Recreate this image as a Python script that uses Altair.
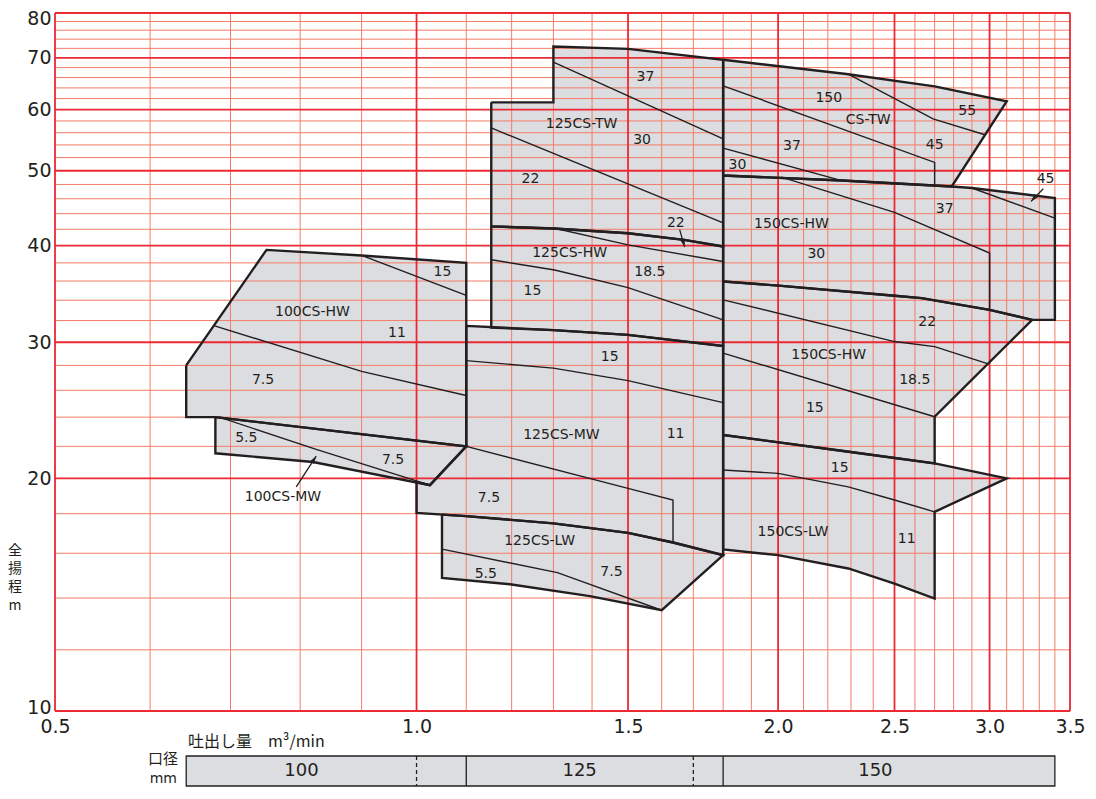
import altair as alt
import pandas as pd

# ---------------- axis ticks / grid ----------------
X_MAJOR = [0.5, 1.0, 1.5, 2.0, 2.5, 3.0, 3.5]
X_MINOR = [0.6, 0.7, 0.8, 0.9, 1.1, 1.2, 1.3, 1.4, 1.6, 1.7, 1.8, 1.9,
           2.1, 2.2, 2.3, 2.4, 2.6, 2.7, 2.8, 2.9, 3.1, 3.2, 3.3, 3.4]
Y_MAJOR = [10, 20, 30, 40, 50, 60, 70, 80]
Y_MINOR = [12, 14, 16, 18, 22, 24, 26, 28, 32, 34, 36, 38, 42, 44, 46, 48,
           52, 54, 56, 58, 62, 64, 66, 68, 72, 74, 76, 78]

# ---------------- pump regions (Q m3/min, H m) ----------------
P100HW = [(0.643, 28.0), (0.75, 39.5), (0.90, 38.85), (1.10, 38.0), (1.10, 22.0),
          (0.68, 24.0), (0.643, 24.0)]
P100MW = [(0.68, 24.0), (1.10, 22.0), (1.026, 19.6), (0.82, 21.0), (0.68, 21.55)]
P125TW = [(1.154, 61.3), (1.30, 61.3), (1.30, 72.4), (1.50, 71.9), (1.80, 69.6),
          (1.80, 39.9), (1.67, 40.7), (1.50, 41.5), (1.30, 42.1), (1.154, 42.36)]
P125HW = [(1.154, 42.36), (1.30, 42.1), (1.50, 41.5), (1.67, 40.7), (1.80, 39.9),
          (1.80, 29.67), (1.50, 30.66), (1.30, 31.1), (1.154, 31.33)]
P125MW = [(1.10, 31.5), (1.30, 31.1), (1.50, 30.66), (1.80, 29.67), (1.80, 15.91),
          (1.635, 16.52), (1.50, 17.0), (1.30, 17.49), (1.10, 17.87), (1.0, 18.04),
          (1.0, 19.78), (1.026, 19.6), (1.10, 22.0)]
P125LW = [(1.05, 17.95), (1.10, 17.87), (1.30, 17.49), (1.50, 17.0), (1.635, 16.52),
          (1.80, 15.91), (1.60, 13.5), (1.394, 14.08), (1.196, 14.59), (1.05, 14.87)]
P150TW = [(1.80, 69.6), (2.28, 66.7), (2.70, 64.3), (3.10, 61.5), (2.79, 47.72),
          (2.26, 48.57), (1.80, 49.3)]
P150HW1 = [(1.80, 49.3), (2.26, 48.57), (2.79, 47.72), (2.90, 47.5), (3.40, 46.1),
           (3.40, 32.07), (3.255, 32.07), (3.0, 33.04), (2.633, 34.21), (2.50, 34.45),
           (2.013, 35.49), (1.80, 35.95)]
P150HW2 = [(1.80, 35.95), (2.013, 35.49), (2.50, 34.45), (2.633, 34.21), (3.0, 33.04),
           (3.255, 32.07), (2.70, 24.03), (2.70, 20.91), (2.29, 21.65), (1.80, 22.76)]
P150LW = [(1.80, 22.76), (2.29, 21.65), (2.70, 20.91), (3.10, 20.0), (2.70, 18.1),
          (2.70, 13.98), (2.50, 14.62), (2.288, 15.29), (2.0, 15.91), (1.80, 16.18)]

POLYS = {"100HW": P100HW, "100MW": P100MW, "125TW": P125TW, "125HW": P125HW,
         "125MW": P125MW, "125LW": P125LW, "150TW": P150TW, "150HW1": P150HW1,
         "150HW2": P150HW2, "150LW": P150LW}

# motor output dividing lines (kW)
KW_LINES = {
    "a": [(0.90, 38.85), (1.10, 34.5)],
    "b": [(0.679, 31.5), (0.90, 27.5), (1.10, 25.6)],
    "c": [(0.685, 24.0), (0.825, 21.8), (1.026, 19.6)],
    "d": [(1.30, 69.1), (1.80, 55.0)],
    "e": [(1.154, 56.8), (1.80, 42.8)],
    "f": [(1.30, 42.16), (1.50, 40.1), (1.80, 38.15)],
    "g": [(1.154, 38.35), (1.303, 37.2), (1.50, 35.3), (1.80, 32.07)],
    "h": [(1.10, 28.4), (1.30, 27.77), (1.50, 26.76), (1.80, 25.06)],
    "i": [(1.10, 22.0), (1.50, 19.41), (1.635, 18.75), (1.635, 16.52)],
    "j": [(1.05, 16.2), (1.31, 15.1), (1.60, 13.5)],
    "k": [(1.80, 64.4), (2.70, 51.26), (2.70, 47.8)],
    "l": [(2.288, 66.7), (2.692, 58.35), (2.973, 55.67)],
    "m": [(1.80, 53.5), (2.244, 48.7)],
    "n": [(2.013, 49.07), (2.50, 44.16), (3.0, 39.13), (3.0, 33.04)],
    "o": [(2.90, 47.5), (3.40, 43.43)],
    "p": [(1.80, 34.04), (2.50, 30.06), (2.70, 29.61), (2.992, 28.12)],
    "q": [(1.80, 29.04), (2.70, 24.03)],
    "r": [(1.80, 20.5), (2.0, 20.3), (2.288, 19.5), (2.50, 18.75), (2.70, 18.1)],
}

# arrows: start, tip, direction (deg)
ARROWS = [((0.794, 19.5), (0.825, 21.37), 33),
          ((1.656, 41.95), (1.672, 39.83), 164),
          ((3.325, 47.4), (3.248, 45.64), 222)]

LABEL_TEXT = ["15", "100CS-HW", "11", "7.5", "5.5", "7.5", "100CS-MW",
              "37", "125CS-TW", "30", "22", "22", "125CS-HW", "18.5", "15",
              "15", "125CS-MW", "11", "7.5", "125CS-LW", "5.5", "7.5",
              "150", "CS-TW", "55", "45", "37", "30", "45",
              "150CS-HW", "37", "30", "22", "150CS-HW", "18.5", "15",
              "15", "150CS-LW", "11"]
LABEL_Q = [1.051, 0.819, 0.963, 0.745, 0.7215, 0.956, 0.774,
           1.551, 1.372, 1.541, 1.244, 1.644, 1.341, 1.564, 1.249,
           1.448, 1.320, 1.643, 1.149, 1.266, 1.142, 1.453,
           2.204, 2.377, 2.874, 2.70, 2.054, 1.85, 3.34,
           2.052, 2.753, 2.152, 2.662, 2.204, 2.599, 2.146,
           2.251, 2.058, 2.559]
LABEL_H = [37.0, 32.84, 30.85, 26.8, 22.53, 21.12, 18.93,
           66.1, 57.5, 54.85, 48.8, 42.8, 39.1, 37.0, 34.96,
           28.69, 22.76, 22.8, 18.84, 16.59, 15.03, 15.14,
           62.1, 58.1, 59.8, 54.0, 53.8, 50.9, 48.8,
           42.7, 44.65, 39.0, 31.9, 28.89, 26.81, 24.64,
           20.6, 17.02, 16.67]

# bore (口径) bar
BORE_EDGES = [0.643, 3.40]
BORE_SOLID = [1.10, 1.80]
BORE_DASHED = [1.00, 1.70]
BORE_TEXT = ["100", "125", "150"]
BORE_Q = [0.802, 1.367, 2.41]

X_TITLE = "吐出し量　m³/min"
Y_TITLE_CHARS = ["全", "揚", "程", "m"]
BORE_TITLE = "口径"
BORE_UNIT = "mm"

# ---------------- styles / layout ----------------
GRAY = "#dcdde0"
INK = "#231f20"
RED = "#ec2a35"
SALMON = "#f47c66"
FONT = "DejaVu Sans"
JFONT = "Noto Sans CJK JP"

W, H = 1015, 698
Y_TITLE_POS = [538, 556, 574, 593]      # pixel rows (plot-relative)
BAR_TOP, BAR_BOT = 743, 773

xs = alt.Scale(type="log", domain=[0.5, 3.5], nice=False)
ys = alt.Scale(type="log", domain=[10, 80], nice=False)
xaxis = alt.Axis(values=X_MAJOR, format=".1f", title=None, grid=False, ticks=False,
                 domain=False, labelFontSize=19, labelFont=FONT, labelColor=INK,
                 labelPadding=6, labelFlush=False, labelOverlap=False)
yaxis = alt.Axis(values=Y_MAJOR, format="d", title=None, grid=False, ticks=False,
                 domain=False, labelFontSize=19, labelFont=FONT, labelColor=INK,
                 labelPadding=4, labelFlush=False, labelOverlap=False,
                 labelOffset={"condition": [{"test": "datum.value == 80", "value": 5},
                                            {"test": "datum.value == 10", "value": -4}],
                              "value": 0})


def XE(f="q"):
    return alt.X(f"{f}:Q", scale=xs, axis=xaxis)


def YE(f="h"):
    return alt.Y(f"{f}:Q", scale=ys, axis=yaxis)


def path_frame(d, close):
    rows = []
    for pid, pts in d.items():
        seq = list(pts) + ([pts[0]] if close else [])
        for i, (q, h) in enumerate(seq):
            rows.append({"pid": pid, "i": i, "q": q, "h": h})
    return pd.DataFrame(rows)


poly_df = path_frame(POLYS, True)
line_df = path_frame(KW_LINES, False)
shaft_df = path_frame({f"s{k}": [a[0], a[1]] for k, a in enumerate(ARROWS)}, False)
head_df = pd.DataFrame({"q": [a[1][0] for a in ARROWS], "h": [a[1][1] for a in ARROWS],
                        "ang": [a[2] for a in ARROWS]})
label_df = pd.DataFrame({"t": LABEL_TEXT, "q": LABEL_Q, "h": LABEL_H})

fills = alt.Chart(poly_df).mark_line(fill=GRAY, strokeOpacity=0).encode(
    x=XE(), y=YE(), detail="pid:N", order="i:Q")

xminor = alt.Chart(pd.DataFrame({"q": X_MINOR})).mark_rule(
    color=SALMON, strokeWidth=1).encode(x=XE())
yminor = alt.Chart(pd.DataFrame({"h": Y_MINOR})).mark_rule(
    color=SALMON, strokeWidth=1).encode(y=YE())
xmajor = alt.Chart(pd.DataFrame({"q": X_MAJOR})).mark_rule(
    color=RED, strokeWidth=1.8).encode(x=XE())
ymajor = alt.Chart(pd.DataFrame({"h": Y_MAJOR})).mark_rule(
    color=RED, strokeWidth=1.8).encode(y=YE())

kw = alt.Chart(line_df).mark_line(color=INK, strokeWidth=1.4).encode(
    x=XE(), y=YE(), detail="pid:N", order="i:Q")
outlines = alt.Chart(poly_df).mark_line(color=INK, strokeWidth=2.4,
                                        strokeJoin="miter").encode(
    x=XE(), y=YE(), detail="pid:N", order="i:Q")
shafts = alt.Chart(shaft_df).mark_line(color=INK, strokeWidth=1.3).encode(
    x=XE(), y=YE(), detail="pid:N", order="i:Q")
heads = alt.Chart(head_df).mark_point(
    shape="M0,0L0.3,1L-0.3,1Z", filled=True, size=256, color=INK, opacity=1).encode(
    x=XE(), y=YE(), angle=alt.Angle("ang:Q", scale=None))
labels = alt.Chart(label_df).mark_text(font=FONT, fontSize=14, color=INK).encode(
    x=XE(), y=YE(), text="t:N")

# ---- below the plot ----
bar = alt.Chart(pd.DataFrame({"q": [BORE_EDGES[0]], "q2": [BORE_EDGES[1]]})).mark_rect(
    fill=GRAY, stroke=INK, strokeWidth=1.3).encode(
    x=XE(), x2="q2:Q", y=alt.value(BAR_TOP), y2=alt.value(BAR_BOT))
bar_solid = alt.Chart(pd.DataFrame({"q": BORE_SOLID})).mark_rule(
    color=INK, strokeWidth=1.3).encode(x=XE(), y=alt.value(BAR_TOP), y2=alt.value(BAR_BOT))
bar_dash = alt.Chart(pd.DataFrame({"q": BORE_DASHED})).mark_rule(
    color=INK, strokeWidth=1.3, strokeDash=[4, 3]).encode(
    x=XE(), y=alt.value(BAR_TOP), y2=alt.value(BAR_BOT))
bar_text = alt.Chart(pd.DataFrame({"t": BORE_TEXT, "q": BORE_Q})).mark_text(
    font=FONT, fontSize=18, color=INK, baseline="middle").encode(
    x=XE(), y=alt.value((BAR_TOP + BAR_BOT) / 2), text="t:N")

xtitle = alt.Chart(pd.DataFrame({"t": [X_TITLE]})).mark_text(
    font=JFONT, fontSize=16, color=INK, align="left", baseline="middle").encode(
    x=alt.value(133), y=alt.value(729), text="t:N")
bore_title = alt.Chart(pd.DataFrame({"t": [BORE_TITLE]})).mark_text(
    font=JFONT, fontSize=15, color=INK, align="right", baseline="middle").encode(
    x=alt.value(123), y=alt.value(746), text="t:N")
bore_unit = alt.Chart(pd.DataFrame({"t": [BORE_UNIT]})).mark_text(
    font=FONT, fontSize=14, color=INK, align="right", baseline="middle").encode(
    x=alt.value(122), y=alt.value(766), text="t:N")
ytitle = alt.Chart(pd.DataFrame({"t": Y_TITLE_CHARS, "yy": Y_TITLE_POS})).mark_text(
    font=JFONT, fontSize=14, color=INK, align="center", baseline="middle").encode(
    x=alt.value(-40), y=alt.Y("yy:Q", scale=None), text="t:N")

chart = alt.layer(
    fills, xminor, yminor, xmajor, ymajor, kw, outlines, shafts, heads, labels,
    bar, bar_solid, bar_dash, bar_text, xtitle, bore_title, bore_unit, ytitle
).properties(
    width=W, height=H,
    autosize=alt.AutoSizeParams(type="none"),
    padding={"left": 47, "top": 5, "right": 16, "bottom": 77},
).configure_view(stroke=RED, strokeWidth=2).configure(background="white")

chart.save("out.html", embed_options={"renderer": "svg", "actions": False})
